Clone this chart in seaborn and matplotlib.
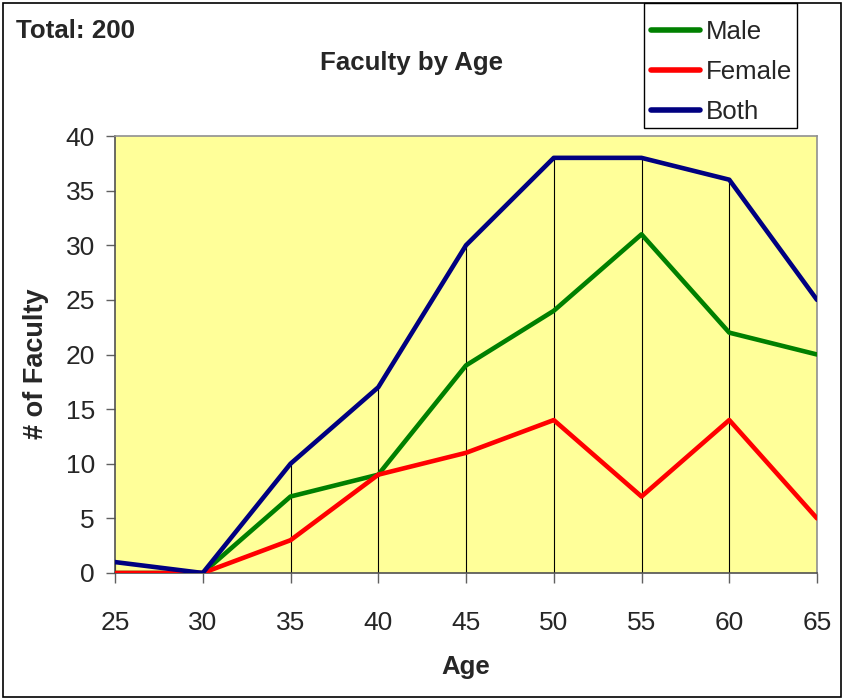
import pandas as pd
import matplotlib
matplotlib.use('Agg')
import matplotlib.pyplot as plt
import seaborn as sns
from matplotlib.patches import Rectangle

sns.set_style('white')
plt.rcParams['font.family'] = ['Liberation Sans', 'DejaVu Sans']

# dados
idades = [25, 30, 35, 40, 45, 50, 55, 60, 65]
masculino = [0, 0, 7, 9, 19, 24, 31, 22, 20]
feminino = [0, 0, 3, 9, 11, 14, 7, 14, 5]
ambos = [1, 0, 10, 17, 30, 38, 38, 36, 25]
series = ['Male', 'Female', 'Both']
cores = {'Male': '#008000', 'Female': '#FF0000', 'Both': '#000080'}

df = pd.concat([
    pd.DataFrame({'Age': idades, 'Faculty': masculino, 'Sexo': 'Male'}),
    pd.DataFrame({'Age': idades, 'Faculty': feminino, 'Sexo': 'Female'}),
    pd.DataFrame({'Age': idades, 'Faculty': ambos, 'Sexo': 'Both'}),
])

fig = plt.figure(figsize=(8.46, 6.99), dpi=100)
ax = fig.add_axes([115/846, 1 - 573/699, (817-115)/846, (573-136)/699])
ax.set_facecolor('#FFFF99')

# linhas de queda do maior valor ate o eixo
ax.vlines(idades, 0, ambos, colors='black', linewidth=0.8, zorder=1)

sns.lineplot(data=df, x='Age', y='Faculty', hue='Sexo', hue_order=series,
             palette=cores, linewidth=3.3, ax=ax, zorder=3, legend=True)

ax.set_xlim(25, 65)
ax.set_ylim(0, 40)
ax.set_xticks(idades)
ax.set_yticks(range(0, 41, 5))
ax.tick_params(axis='x', length=7, width=1, color='#606060', pad=20, labelsize=19)
ax.tick_params(axis='y', length=6.5, width=1, color='#606060', pad=8, labelsize=19)
ax.tick_params(bottom=True, left=True)
for lado in ['left', 'bottom']:
    ax.spines[lado].set_color('#505050')
    ax.spines[lado].set_linewidth(1.2)
for lado in ['top', 'right']:
    ax.spines[lado].set_color('#909090')
    ax.spines[lado].set_linewidth(1.2)

ax.set_xlabel('Age', fontsize=18.6, fontweight='bold', labelpad=15)
ax.set_ylabel('# of Faculty', fontsize=19.5, fontweight='bold')
ax.yaxis.set_label_coords(-0.094, 0.48)

# legenda sem moldura + caixa desenhada a parte
handles, labels = ax.get_legend_handles_labels()
ax.get_legend().remove()
leg = fig.legend(handles, labels, loc='upper left',
                 bbox_to_anchor=(643/846, 1 - 12/699), borderaxespad=0,
                 fontsize=18.6, frameon=False, handlelength=1.9,
                 handletextpad=0.23, labelspacing=0.63, borderpad=0.3)
for linha in leg.get_lines():
    linha.set_linewidth(4)
fig.patches.append(Rectangle((644/846, 1 - 128/699), (797-644)/846, 125/699,
                             transform=fig.transFigure, fill=False,
                             edgecolor='black', linewidth=1))

fig.text(411/846, 1 - 63/699, 'Faculty by Age', ha='center', va='center',
         fontsize=18.6, fontweight='bold')
fig.text(16/846, 1 - 31/699, 'Total: 200', ha='left', va='center',
         fontsize=18.6, fontweight='bold')

fig.patches.append(Rectangle((3/846, 2/699), (841-3)/846, (696-2)/699,
                             transform=fig.transFigure, fill=False,
                             edgecolor='black', linewidth=1.2))

fig.savefig('out.png', dpi=100)
